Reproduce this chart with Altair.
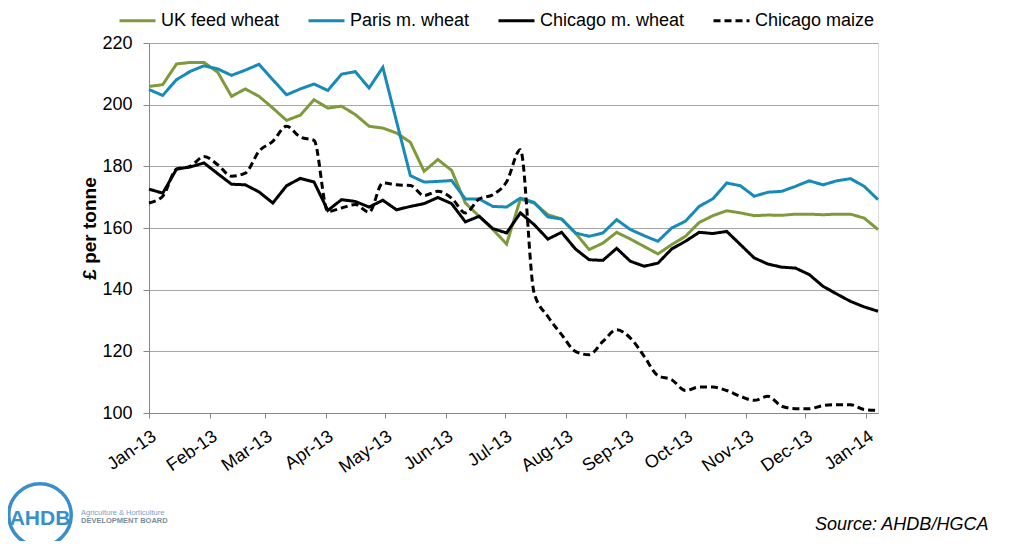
import altair as alt
import pandas as pd

# ---- data (weekly) ----
start = "2013-01-01"
n_weeks = 54
series_names = ["UK feed wheat", "Paris m. wheat", "Chicago m. wheat", "Chicago maize"]

uk_feed_wheat = [205.9, 206.5, 213.2, 213.7, 213.7, 210.5, 202.7, 205.1, 202.7, 198.9,
                 194.9, 196.6, 201.6, 198.9, 199.5, 196.8, 193.0, 192.4, 190.8, 187.8,
                 178.4, 182.2, 178.7, 168.1, 163.8, 159.5, 154.8, 169.4, 168.1, 164.3,
                 162.9, 158.4, 153.0, 155.1, 158.6, 156.4, 154.0, 151.6, 154.6, 157.3,
                 161.8, 164.0, 165.6, 164.9, 164.0, 164.2, 164.1, 164.5, 164.5, 164.3,
                 164.5, 164.5, 163.2, 159.5]
paris_wheat = [204.9, 203.0, 208.1, 210.8, 212.6, 211.6, 209.5, 211.2, 213.1, 208.1,
               203.2, 205.1, 206.7, 204.6, 209.9, 210.7, 205.4, 212.1, 194.5, 177.0,
               174.9, 175.1, 175.4, 169.4, 169.4, 167.0, 166.8, 169.7, 168.3, 163.6,
               162.9, 158.4, 157.3, 158.4, 162.7, 159.5, 157.5, 155.7, 160.0, 162.2,
               167.0, 169.5, 174.6, 173.7, 170.3, 171.6, 171.9, 173.5, 175.3, 174.0,
               175.3, 176.0, 173.5, 169.2]
chicago_wheat = [172.6, 171.3, 179.1, 179.8, 181.1, 177.6, 174.2, 174.0, 171.7, 168.1,
                 173.7, 176.1, 174.9, 165.7, 169.2, 168.6, 166.8, 169.0, 165.9, 167.0,
                 167.9, 169.9, 167.9, 162.0, 163.8, 159.8, 158.4, 164.9, 161.1, 156.4,
                 158.6, 153.2, 149.7, 149.5, 153.4, 149.2, 147.6, 148.6, 153.2, 155.7,
                 158.6, 158.2, 158.9, 154.6, 150.3, 148.3, 147.3, 147.0, 144.9, 141.1,
                 138.6, 136.2, 134.4, 133.0]
chicago_maize = [168.1, 170.3, 179.1, 180.0, 183.2, 180.5, 176.8, 177.8, 184.9, 188.1,
                 193.0, 189.5, 188.4, 165.4, 166.5, 167.6, 165.1, 174.6, 174.0, 173.8,
                 170.5, 171.9, 169.7, 164.9, 169.4, 170.8, 175.0, 185.4, 138.9, 131.3,
                 125.4, 120.0, 118.9, 123.2, 127.0, 124.3, 118.4, 112.1, 110.8, 107.3,
                 108.4, 108.4, 107.3, 105.4, 104.1, 105.4, 102.2, 101.4, 101.4, 102.4,
                 102.7, 102.7, 101.1, 100.9]

y_ticks = [100, 120, 140, 160, 180, 200, 220]
colors = ["#7F9A3A", "#168BB8", "#000000", "#000000"]
dashes = [[1, 0], [1, 0], [1, 0], [7, 4]]

# ---- build table ----
dates = pd.date_range(start, periods=n_weeks, freq="7D")
date_str = [d.strftime("%Y-%m-%d") for d in dates]
frames = []
for name, vals in zip(series_names, [uk_feed_wheat, paris_wheat, chicago_wheat, chicago_maize]):
    frames.append(pd.DataFrame({"date": date_str, "value": vals, "series": name}))
df = pd.concat(frames, ignore_index=True)

def ms(s):
    return int(pd.Timestamp(s, tz="UTC").value // 10**6)

month_ticks = [ms(f"{y}-{m:02d}-01") for y, m in [(2013, i) for i in range(1, 13)] + [(2014, 1)]]
x_domain = [ms(date_str[0]), ms(date_str[-1])]

FONT = "Liberation Sans"

base = alt.Chart(df)

lines_solid = base.transform_filter(alt.datum.series != "Chicago maize").mark_line(
    strokeWidth=3, strokeJoin="miter"
)
lines_maize = base.transform_filter(alt.datum.series == "Chicago maize").mark_line(
    strokeWidth=3, interpolate="monotone"
)

legend_cfg = dict(
    title=None,
    orient="none",
    legendX=-31,
    legendY=-42,
    direction="horizontal",
    symbolType="stroke",
    symbolSize=1296,
    symbolStrokeWidth=3,
    labelFontSize=18,
    labelFont=FONT,
    labelColor="#000000",
    labelOffset=4,
    columnPadding=22,
)

enc = dict(
    x=alt.X(
        "date:T",
        scale=alt.Scale(type="utc", domain=x_domain, nice=False),
        axis=alt.Axis(
            values=month_ticks,
            labelExpr="utcFormat(datum.value, '%b-%y')",
            labelAngle=-35,
            labelAlign="right",
            labelBaseline="top",
            labelPadding=9,
            labelFontSize=18,
            labelFont=FONT,
            labelColor="#000000",
            tickSize=5,
            tickColor="#868686",
            domainColor="#868686",
            grid=False,
            title=None,
            labelOverlap=False,
        ),
    ),
    y=alt.Y(
        "value:Q",
        scale=alt.Scale(domain=[100, 220], nice=False, zero=False),
        axis=alt.Axis(
            values=y_ticks,
            labelFontSize=18,
            labelFont=FONT,
            labelColor="#000000",
            labelPadding=11,
            tickSize=6,
            tickColor="#868686",
            domainColor="#868686",
            gridColor="#A6A6A6",
            gridWidth=1,
            title="£ per tonne",
            titleFont=FONT,
            titleFontSize=19,
            titleFontWeight="bold",
            titleAngle=-90,
            titleX=-60,
            titleY=185,
            titleAlign="center",
            titleBaseline="middle",
            titleColor="#000000",
        ),
    ),
    color=alt.Color(
        "series:N",
        scale=alt.Scale(domain=series_names, range=colors),
        legend=alt.Legend(**legend_cfg),
    ),
    strokeDash=alt.StrokeDash(
        "series:N",
        scale=alt.Scale(domain=series_names, range=dashes),
        legend=alt.Legend(**legend_cfg),
    ),
)

lines = (lines_solid.encode(**enc) + lines_maize.encode(**enc))

# ---- annotations (source and logo) ----
src = alt.Chart(pd.DataFrame({"t": ["Source: AHDB/HGCA"]})).mark_text(
    font=FONT, fontSize=18, fontStyle="italic", align="left", baseline="alphabetic", color="#000000"
).encode(text="t:N", x=alt.value(666), y=alt.value(487))

logo_ring = alt.Chart(pd.DataFrame({"k": [1]})).mark_point(
    shape="circle", size=3900, filled=False, stroke="#3A8FCB", strokeWidth=3.5, opacity=1
).encode(x=alt.value(-109), y=alt.value(472))

logo_text = alt.Chart(pd.DataFrame({"t": ["AHDB"]})).mark_text(
    font=FONT, fontSize=21, fontWeight="bold", align="center", baseline="middle", color="#3A8FCB"
).encode(text="t:N", x=alt.value(-109), y=alt.value(476))

logo_sub1 = alt.Chart(pd.DataFrame({"t": ["Agriculture & Horticulture"]})).mark_text(
    font=FONT, fontSize=7.5, align="left", baseline="middle", color="#6FA6CF"
).encode(text="t:N", x=alt.value(-68), y=alt.value(470))

logo_sub2 = alt.Chart(pd.DataFrame({"t": ["DEVELOPMENT BOARD"]})).mark_text(
    font=FONT, fontSize=7.5, fontWeight="bold", align="left", baseline="middle", color="#7A8C9C"
).encode(text="t:N", x=alt.value(-68), y=alt.value(478))

chart = alt.layer(lines, src, logo_ring, logo_text, logo_sub1, logo_sub2).properties(
    width=729,
    height=370,
    autosize=alt.AutoSizeParams(type="none"),
    padding={"left": 141, "top": 35, "right": 142, "bottom": 128},
).configure_view(stroke=None).configure(background="#FFFFFF")

chart.save("out.html", embed_options={"renderer": "svg", "actions": False})
